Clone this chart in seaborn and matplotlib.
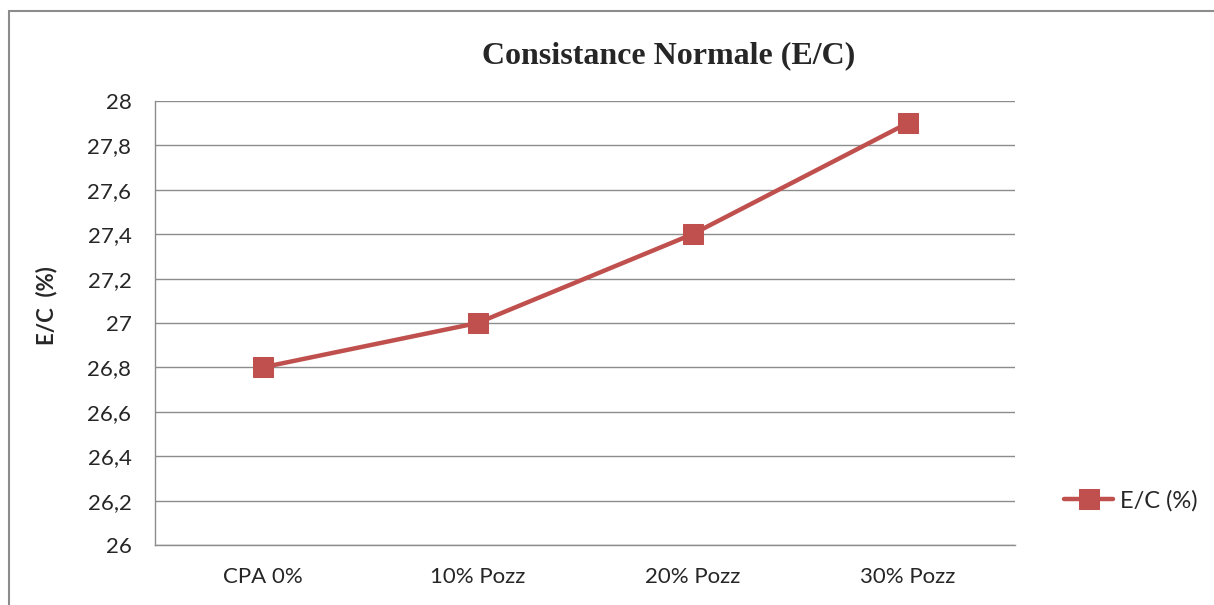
import matplotlib
matplotlib.use("Agg")
import matplotlib.pyplot as plt
import seaborn as sns
import pandas as pd
from matplotlib.patches import Rectangle

categories = ["CPA 0%", "10% Pozz", "20% Pozz", "30% Pozz"]
values = [26.8, 27.0, 27.4, 27.9]
yticks = [26, 26.2, 26.4, 26.6, 26.8, 27, 27.2, 27.4, 27.6, 27.8, 28]
ytick_labels = ["26", "26,2", "26,4", "26,6", "26,8", "27", "27,2", "27,4", "27,6", "27,8", "28"]
series_name = "E/C (%)"

sns.set_theme(style="white")
plt.rcParams["font.family"] = ["Lato", "DejaVu Sans"]

df = pd.DataFrame({"cat": categories, "val": values, "series": series_name})

fig = plt.figure(figsize=(12.14, 6.05), dpi=100)
ax = fig.add_axes([155/1214, 60/605, (1015-155)/1214, (545-101)/605])

color = "#C0504D"
sns.lineplot(data=df, x="cat", y="val", hue="series", palette=[color], marker="s",
             markersize=14, linewidth=3.2, markeredgecolor=color, ax=ax, sort=False)

ax.set_xlim(-0.5, 3.5)
ax.set_ylim(26, 28)
ax.set_yticks(yticks)
ax.set_yticklabels(ytick_labels)
ax.yaxis.grid(True, color="#8c8c8c", linewidth=1)
ax.set_axisbelow(True)
for s in ["top", "right"]:
    ax.spines[s].set_visible(False)
for s in ["left", "bottom"]:
    ax.spines[s].set_color("#8c8c8c")
    ax.spines[s].set_linewidth(1)
ax.tick_params(axis="y", labelsize=16, length=0, pad=17)
ax.tick_params(axis="x", labelsize=16, length=0, pad=16)
ax.set_xlabel("")
ax.set_ylabel("E/C  (%)", fontsize=16, fontweight="bold")
ax.yaxis.set_label_coords(-0.113, 0.54)

leg = ax.legend(loc="center left", bbox_to_anchor=(1.032, 0.1), frameon=False,
                fontsize=17, handlelength=2.1, handletextpad=0.3)

fig.text(669/1214, 1 - 56/605, "Consistance Normale (E/C)", ha="center", va="center",
         fontsize=23, fontweight="bold", family="Liberation Serif")

fig.patches.append(Rectangle((9/1214, -0.1), 1.2, 1 - 11/605 + 0.1, transform=fig.transFigure,
                             fill=False, edgecolor="#8c8c8c", linewidth=1.5))

fig.savefig("out.png", dpi=100)
